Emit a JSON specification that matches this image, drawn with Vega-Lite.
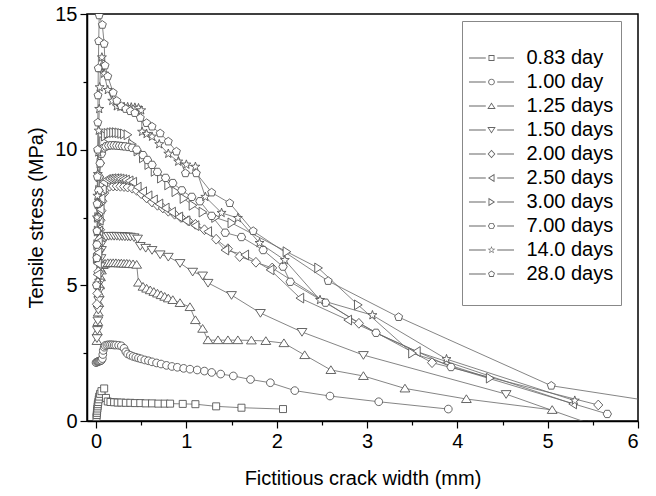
{
  "$schema": "https://vega.github.io/schema/vega-lite/v6.json",
  "width": 551,
  "height": 407,
  "autosize": "none",
  "padding": {"left": 87, "top": 14, "right": 18, "bottom": 75},
  "config": {
    "font": "Liberation Sans",
    "view": {"stroke": "#000", "strokeWidth": 1.5},
    "axis": {
      "grid": false,
      "domainColor": "#000",
      "domainWidth": 1.5,
      "tickColor": "#000",
      "tickWidth": 1.2,
      "labelFont": "Liberation Sans",
      "labelFontSize": 20,
      "labelColor": "#000",
      "titleFont": "Liberation Sans",
      "titleFontSize": 20,
      "titleFontWeight": "normal",
      "titleColor": "#000"
    }
  },
  "data": {
    "values": [
      {"age": "0.83 day", "w": 0.005, "s": 0.15},
      {"age": "0.83 day", "w": 0.008, "s": 0.22},
      {"age": "0.83 day", "w": 0.01, "s": 0.3},
      {"age": "0.83 day", "w": 0.012, "s": 0.38},
      {"age": "0.83 day", "w": 0.015, "s": 0.46},
      {"age": "0.83 day", "w": 0.018, "s": 0.54},
      {"age": "0.83 day", "w": 0.02, "s": 0.62},
      {"age": "0.83 day", "w": 0.025, "s": 0.7},
      {"age": "0.83 day", "w": 0.03, "s": 0.8},
      {"age": "0.83 day", "w": 0.035, "s": 0.9},
      {"age": "0.83 day", "w": 0.045, "s": 1.0},
      {"age": "0.83 day", "w": 0.06, "s": 1.1},
      {"age": "0.83 day", "w": 0.09, "s": 1.2},
      {"age": "0.83 day", "w": 0.11, "s": 0.85},
      {"age": "0.83 day", "w": 0.13, "s": 0.72},
      {"age": "0.83 day", "w": 0.16, "s": 0.7},
      {"age": "0.83 day", "w": 0.2, "s": 0.69},
      {"age": "0.83 day", "w": 0.24, "s": 0.68},
      {"age": "0.83 day", "w": 0.28, "s": 0.68},
      {"age": "0.83 day", "w": 0.33, "s": 0.67},
      {"age": "0.83 day", "w": 0.38, "s": 0.67},
      {"age": "0.83 day", "w": 0.43, "s": 0.66},
      {"age": "0.83 day", "w": 0.49, "s": 0.66},
      {"age": "0.83 day", "w": 0.55, "s": 0.65},
      {"age": "0.83 day", "w": 0.62, "s": 0.65},
      {"age": "0.83 day", "w": 0.69, "s": 0.64},
      {"age": "0.83 day", "w": 0.76, "s": 0.64},
      {"age": "0.83 day", "w": 0.82, "s": 0.64},
      {"age": "0.83 day", "w": 0.96, "s": 0.63},
      {"age": "0.83 day", "w": 1.1, "s": 0.62},
      {"age": "0.83 day", "w": 1.33, "s": 0.54},
      {"age": "0.83 day", "w": 1.61, "s": 0.49},
      {"age": "0.83 day", "w": 2.07, "s": 0.44},

      {"age": "1.00 day", "w": 0.0, "s": 2.15},
      {"age": "1.00 day", "w": 0.01, "s": 2.17},
      {"age": "1.00 day", "w": 0.02, "s": 2.19},
      {"age": "1.00 day", "w": 0.03, "s": 2.2},
      {"age": "1.00 day", "w": 0.04, "s": 2.21},
      {"age": "1.00 day", "w": 0.05, "s": 2.22},
      {"age": "1.00 day", "w": 0.06, "s": 2.24},
      {"age": "1.00 day", "w": 0.07, "s": 2.3},
      {"age": "1.00 day", "w": 0.075, "s": 2.45},
      {"age": "1.00 day", "w": 0.08, "s": 2.6},
      {"age": "1.00 day", "w": 0.09, "s": 2.72},
      {"age": "1.00 day", "w": 0.1, "s": 2.78},
      {"age": "1.00 day", "w": 0.12, "s": 2.8},
      {"age": "1.00 day", "w": 0.14, "s": 2.81},
      {"age": "1.00 day", "w": 0.16, "s": 2.81},
      {"age": "1.00 day", "w": 0.18, "s": 2.81},
      {"age": "1.00 day", "w": 0.2, "s": 2.8},
      {"age": "1.00 day", "w": 0.22, "s": 2.8},
      {"age": "1.00 day", "w": 0.25, "s": 2.79},
      {"age": "1.00 day", "w": 0.28, "s": 2.77},
      {"age": "1.00 day", "w": 0.31, "s": 2.68},
      {"age": "1.00 day", "w": 0.33, "s": 2.55},
      {"age": "1.00 day", "w": 0.35, "s": 2.47},
      {"age": "1.00 day", "w": 0.38, "s": 2.42},
      {"age": "1.00 day", "w": 0.41, "s": 2.38},
      {"age": "1.00 day", "w": 0.44, "s": 2.35},
      {"age": "1.00 day", "w": 0.47, "s": 2.32},
      {"age": "1.00 day", "w": 0.5, "s": 2.29},
      {"age": "1.00 day", "w": 0.54, "s": 2.25},
      {"age": "1.00 day", "w": 0.58, "s": 2.22},
      {"age": "1.00 day", "w": 0.62, "s": 2.18},
      {"age": "1.00 day", "w": 0.67, "s": 2.14},
      {"age": "1.00 day", "w": 0.72, "s": 2.1},
      {"age": "1.00 day", "w": 0.78, "s": 2.05},
      {"age": "1.00 day", "w": 0.84, "s": 2.01},
      {"age": "1.00 day", "w": 0.9, "s": 1.98},
      {"age": "1.00 day", "w": 0.97, "s": 1.94},
      {"age": "1.00 day", "w": 1.04, "s": 1.91},
      {"age": "1.00 day", "w": 1.12, "s": 1.88},
      {"age": "1.00 day", "w": 1.2, "s": 1.84},
      {"age": "1.00 day", "w": 1.28, "s": 1.79},
      {"age": "1.00 day", "w": 1.38, "s": 1.73},
      {"age": "1.00 day", "w": 1.52, "s": 1.66},
      {"age": "1.00 day", "w": 1.71, "s": 1.53},
      {"age": "1.00 day", "w": 1.93, "s": 1.41},
      {"age": "1.00 day", "w": 2.2, "s": 1.12},
      {"age": "1.00 day", "w": 2.59, "s": 0.92},
      {"age": "1.00 day", "w": 3.13, "s": 0.71},
      {"age": "1.00 day", "w": 3.9, "s": 0.44},

      {"age": "1.25 days", "w": 0.01, "s": 2.95},
      {"age": "1.25 days", "w": 0.015, "s": 3.3},
      {"age": "1.25 days", "w": 0.02, "s": 3.65},
      {"age": "1.25 days", "w": 0.025, "s": 4.0},
      {"age": "1.25 days", "w": 0.03, "s": 4.35},
      {"age": "1.25 days", "w": 0.035, "s": 4.7},
      {"age": "1.25 days", "w": 0.04, "s": 5.0},
      {"age": "1.25 days", "w": 0.05, "s": 5.3},
      {"age": "1.25 days", "w": 0.06, "s": 5.55},
      {"age": "1.25 days", "w": 0.08, "s": 5.75},
      {"age": "1.25 days", "w": 0.1, "s": 5.8},
      {"age": "1.25 days", "w": 0.13, "s": 5.82},
      {"age": "1.25 days", "w": 0.16, "s": 5.82},
      {"age": "1.25 days", "w": 0.19, "s": 5.82},
      {"age": "1.25 days", "w": 0.22, "s": 5.82},
      {"age": "1.25 days", "w": 0.25, "s": 5.81},
      {"age": "1.25 days", "w": 0.28, "s": 5.81},
      {"age": "1.25 days", "w": 0.31, "s": 5.8},
      {"age": "1.25 days", "w": 0.34, "s": 5.8},
      {"age": "1.25 days", "w": 0.37, "s": 5.79},
      {"age": "1.25 days", "w": 0.41, "s": 5.78},
      {"age": "1.25 days", "w": 0.45, "s": 5.76},
      {"age": "1.25 days", "w": 0.47, "s": 5.1},
      {"age": "1.25 days", "w": 0.52, "s": 4.95},
      {"age": "1.25 days", "w": 0.56, "s": 4.88},
      {"age": "1.25 days", "w": 0.6, "s": 4.82},
      {"age": "1.25 days", "w": 0.64, "s": 4.76},
      {"age": "1.25 days", "w": 0.68, "s": 4.7},
      {"age": "1.25 days", "w": 0.72, "s": 4.64},
      {"age": "1.25 days", "w": 0.76, "s": 4.58},
      {"age": "1.25 days", "w": 0.8, "s": 4.52},
      {"age": "1.25 days", "w": 0.85, "s": 4.46},
      {"age": "1.25 days", "w": 0.93, "s": 4.35},
      {"age": "1.25 days", "w": 1.04, "s": 4.2},
      {"age": "1.25 days", "w": 1.1, "s": 3.72},
      {"age": "1.25 days", "w": 1.18, "s": 3.4},
      {"age": "1.25 days", "w": 1.24, "s": 2.98},
      {"age": "1.25 days", "w": 1.35, "s": 2.98},
      {"age": "1.25 days", "w": 1.46, "s": 2.98},
      {"age": "1.25 days", "w": 1.57, "s": 2.98},
      {"age": "1.25 days", "w": 1.72, "s": 2.97},
      {"age": "1.25 days", "w": 1.88, "s": 2.95},
      {"age": "1.25 days", "w": 2.08, "s": 2.87},
      {"age": "1.25 days", "w": 2.31, "s": 2.43},
      {"age": "1.25 days", "w": 2.6, "s": 1.88},
      {"age": "1.25 days", "w": 2.96, "s": 1.66},
      {"age": "1.25 days", "w": 3.42, "s": 1.2},
      {"age": "1.25 days", "w": 4.1, "s": 0.81},
      {"age": "1.25 days", "w": 5.05, "s": 0.41},

      {"age": "1.50 days", "w": 0.01, "s": 3.05},
      {"age": "1.50 days", "w": 0.015, "s": 3.35},
      {"age": "1.50 days", "w": 0.02, "s": 3.7},
      {"age": "1.50 days", "w": 0.025, "s": 4.1},
      {"age": "1.50 days", "w": 0.03, "s": 4.45},
      {"age": "1.50 days", "w": 0.035, "s": 4.8},
      {"age": "1.50 days", "w": 0.04, "s": 5.1},
      {"age": "1.50 days", "w": 0.045, "s": 5.4},
      {"age": "1.50 days", "w": 0.05, "s": 5.7},
      {"age": "1.50 days", "w": 0.055, "s": 6.0},
      {"age": "1.50 days", "w": 0.06, "s": 6.3},
      {"age": "1.50 days", "w": 0.075, "s": 6.6},
      {"age": "1.50 days", "w": 0.09, "s": 6.75},
      {"age": "1.50 days", "w": 0.11, "s": 6.8},
      {"age": "1.50 days", "w": 0.14, "s": 6.82},
      {"age": "1.50 days", "w": 0.17, "s": 6.82},
      {"age": "1.50 days", "w": 0.2, "s": 6.82},
      {"age": "1.50 days", "w": 0.23, "s": 6.82},
      {"age": "1.50 days", "w": 0.26, "s": 6.81},
      {"age": "1.50 days", "w": 0.29, "s": 6.81},
      {"age": "1.50 days", "w": 0.32, "s": 6.8},
      {"age": "1.50 days", "w": 0.35, "s": 6.8},
      {"age": "1.50 days", "w": 0.38, "s": 6.79},
      {"age": "1.50 days", "w": 0.42, "s": 6.77},
      {"age": "1.50 days", "w": 0.46, "s": 6.72},
      {"age": "1.50 days", "w": 0.49, "s": 6.45},
      {"age": "1.50 days", "w": 0.55, "s": 6.38},
      {"age": "1.50 days", "w": 0.62, "s": 6.3},
      {"age": "1.50 days", "w": 0.71, "s": 6.14},
      {"age": "1.50 days", "w": 0.8, "s": 6.05},
      {"age": "1.50 days", "w": 0.93, "s": 5.82},
      {"age": "1.50 days", "w": 1.07, "s": 5.5},
      {"age": "1.50 days", "w": 1.18, "s": 5.36},
      {"age": "1.50 days", "w": 1.24, "s": 5.09},
      {"age": "1.50 days", "w": 1.5, "s": 4.64},
      {"age": "1.50 days", "w": 1.82, "s": 3.98},
      {"age": "1.50 days", "w": 2.28, "s": 3.28},
      {"age": "1.50 days", "w": 2.96, "s": 2.43},
      {"age": "1.50 days", "w": 4.54, "s": 0.99},
      {"age": "1.50 days", "w": 5.5, "s": -0.14},

      {"age": "2.00 days", "w": 0.01, "s": 4.3},
      {"age": "2.00 days", "w": 0.015, "s": 4.7},
      {"age": "2.00 days", "w": 0.02, "s": 5.1},
      {"age": "2.00 days", "w": 0.025, "s": 5.5},
      {"age": "2.00 days", "w": 0.03, "s": 5.9},
      {"age": "2.00 days", "w": 0.035, "s": 6.3},
      {"age": "2.00 days", "w": 0.04, "s": 6.7},
      {"age": "2.00 days", "w": 0.045, "s": 7.05},
      {"age": "2.00 days", "w": 0.05, "s": 7.4},
      {"age": "2.00 days", "w": 0.06, "s": 7.75},
      {"age": "2.00 days", "w": 0.07, "s": 8.1},
      {"age": "2.00 days", "w": 0.09, "s": 8.4},
      {"age": "2.00 days", "w": 0.12, "s": 8.6},
      {"age": "2.00 days", "w": 0.15, "s": 8.65},
      {"age": "2.00 days", "w": 0.19, "s": 8.66},
      {"age": "2.00 days", "w": 0.23, "s": 8.66},
      {"age": "2.00 days", "w": 0.27, "s": 8.65},
      {"age": "2.00 days", "w": 0.31, "s": 8.64},
      {"age": "2.00 days", "w": 0.35, "s": 8.62},
      {"age": "2.00 days", "w": 0.4, "s": 8.58},
      {"age": "2.00 days", "w": 0.45, "s": 8.5},
      {"age": "2.00 days", "w": 0.5, "s": 8.38},
      {"age": "2.00 days", "w": 0.56, "s": 8.22},
      {"age": "2.00 days", "w": 0.62, "s": 8.07},
      {"age": "2.00 days", "w": 0.68, "s": 7.95},
      {"age": "2.00 days", "w": 0.74, "s": 7.85},
      {"age": "2.00 days", "w": 0.8, "s": 7.73},
      {"age": "2.00 days", "w": 0.87, "s": 7.62},
      {"age": "2.00 days", "w": 0.94, "s": 7.5},
      {"age": "2.00 days", "w": 1.02, "s": 7.38},
      {"age": "2.00 days", "w": 1.1, "s": 7.25},
      {"age": "2.00 days", "w": 1.2, "s": 7.05},
      {"age": "2.00 days", "w": 1.33, "s": 6.7},
      {"age": "2.00 days", "w": 1.46, "s": 6.35},
      {"age": "2.00 days", "w": 1.59, "s": 6.06},
      {"age": "2.00 days", "w": 1.77, "s": 5.85},
      {"age": "2.00 days", "w": 1.95, "s": 5.64},
      {"age": "2.00 days", "w": 2.91, "s": 3.6},
      {"age": "2.00 days", "w": 3.72, "s": 2.15},
      {"age": "2.00 days", "w": 5.56, "s": 0.59},

      {"age": "2.50 days", "w": 0.01, "s": 5.0},
      {"age": "2.50 days", "w": 0.015, "s": 5.4},
      {"age": "2.50 days", "w": 0.02, "s": 5.8},
      {"age": "2.50 days", "w": 0.025, "s": 6.2},
      {"age": "2.50 days", "w": 0.03, "s": 6.6},
      {"age": "2.50 days", "w": 0.035, "s": 7.0},
      {"age": "2.50 days", "w": 0.04, "s": 7.4},
      {"age": "2.50 days", "w": 0.05, "s": 7.8},
      {"age": "2.50 days", "w": 0.06, "s": 8.2},
      {"age": "2.50 days", "w": 0.075, "s": 8.55},
      {"age": "2.50 days", "w": 0.09, "s": 8.8},
      {"age": "2.50 days", "w": 0.12, "s": 8.9},
      {"age": "2.50 days", "w": 0.15, "s": 8.92},
      {"age": "2.50 days", "w": 0.18, "s": 8.93},
      {"age": "2.50 days", "w": 0.21, "s": 8.93},
      {"age": "2.50 days", "w": 0.24, "s": 8.93},
      {"age": "2.50 days", "w": 0.27, "s": 8.92},
      {"age": "2.50 days", "w": 0.3, "s": 8.9},
      {"age": "2.50 days", "w": 0.33, "s": 8.88},
      {"age": "2.50 days", "w": 0.37, "s": 8.85},
      {"age": "2.50 days", "w": 0.41, "s": 8.8},
      {"age": "2.50 days", "w": 0.46, "s": 8.62},
      {"age": "2.50 days", "w": 0.52, "s": 8.45},
      {"age": "2.50 days", "w": 0.58, "s": 8.3},
      {"age": "2.50 days", "w": 0.64, "s": 8.15},
      {"age": "2.50 days", "w": 0.7, "s": 8.0},
      {"age": "2.50 days", "w": 0.77, "s": 7.85},
      {"age": "2.50 days", "w": 0.84, "s": 7.7},
      {"age": "2.50 days", "w": 0.92, "s": 7.52},
      {"age": "2.50 days", "w": 1.0, "s": 7.38},
      {"age": "2.50 days", "w": 1.1, "s": 7.2},
      {"age": "2.50 days", "w": 1.24, "s": 6.98},
      {"age": "2.50 days", "w": 1.43, "s": 6.3},
      {"age": "2.50 days", "w": 1.65, "s": 6.12},
      {"age": "2.50 days", "w": 1.93, "s": 5.57},
      {"age": "2.50 days", "w": 2.26, "s": 4.53},
      {"age": "2.50 days", "w": 2.79, "s": 3.72},
      {"age": "2.50 days", "w": 3.55, "s": 2.56},
      {"age": "2.50 days", "w": 5.28, "s": 0.63},

      {"age": "3.00 days", "w": 0.01, "s": 6.0},
      {"age": "3.00 days", "w": 0.015, "s": 6.5},
      {"age": "3.00 days", "w": 0.02, "s": 7.0},
      {"age": "3.00 days", "w": 0.025, "s": 7.5},
      {"age": "3.00 days", "w": 0.03, "s": 8.0},
      {"age": "3.00 days", "w": 0.035, "s": 8.5},
      {"age": "3.00 days", "w": 0.04, "s": 9.0},
      {"age": "3.00 days", "w": 0.05, "s": 9.5},
      {"age": "3.00 days", "w": 0.06, "s": 9.9},
      {"age": "3.00 days", "w": 0.08, "s": 10.3},
      {"age": "3.00 days", "w": 0.1, "s": 10.5},
      {"age": "3.00 days", "w": 0.13, "s": 10.6},
      {"age": "3.00 days", "w": 0.16, "s": 10.62},
      {"age": "3.00 days", "w": 0.19, "s": 10.63},
      {"age": "3.00 days", "w": 0.22, "s": 10.63},
      {"age": "3.00 days", "w": 0.25, "s": 10.62},
      {"age": "3.00 days", "w": 0.28, "s": 10.6},
      {"age": "3.00 days", "w": 0.31, "s": 10.58},
      {"age": "3.00 days", "w": 0.35, "s": 10.55},
      {"age": "3.00 days", "w": 0.4, "s": 10.2},
      {"age": "3.00 days", "w": 0.46, "s": 9.95},
      {"age": "3.00 days", "w": 0.52, "s": 9.7},
      {"age": "3.00 days", "w": 0.58, "s": 9.45},
      {"age": "3.00 days", "w": 0.65, "s": 9.2},
      {"age": "3.00 days", "w": 0.72, "s": 8.95},
      {"age": "3.00 days", "w": 0.8, "s": 8.7},
      {"age": "3.00 days", "w": 0.88, "s": 8.45},
      {"age": "3.00 days", "w": 0.97, "s": 8.2},
      {"age": "3.00 days", "w": 1.07, "s": 7.95},
      {"age": "3.00 days", "w": 1.18, "s": 7.7},
      {"age": "3.00 days", "w": 1.32, "s": 7.5},
      {"age": "3.00 days", "w": 1.5, "s": 7.3},
      {"age": "3.00 days", "w": 2.11, "s": 6.24},
      {"age": "3.00 days", "w": 2.46, "s": 5.64},
      {"age": "3.00 days", "w": 2.9, "s": 4.28},
      {"age": "3.00 days", "w": 3.5, "s": 2.5},
      {"age": "3.00 days", "w": 4.36, "s": 1.58},

      {"age": "7.00 days", "w": 0.01, "s": 6.5},
      {"age": "7.00 days", "w": 0.015, "s": 7.0},
      {"age": "7.00 days", "w": 0.02, "s": 7.5},
      {"age": "7.00 days", "w": 0.025, "s": 8.0},
      {"age": "7.00 days", "w": 0.03, "s": 8.5},
      {"age": "7.00 days", "w": 0.035, "s": 9.0},
      {"age": "7.00 days", "w": 0.045, "s": 9.5},
      {"age": "7.00 days", "w": 0.06, "s": 9.85},
      {"age": "7.00 days", "w": 0.08, "s": 10.05},
      {"age": "7.00 days", "w": 0.11, "s": 10.12},
      {"age": "7.00 days", "w": 0.14, "s": 10.15},
      {"age": "7.00 days", "w": 0.17, "s": 10.16},
      {"age": "7.00 days", "w": 0.2, "s": 10.16},
      {"age": "7.00 days", "w": 0.23, "s": 10.15},
      {"age": "7.00 days", "w": 0.26, "s": 10.14},
      {"age": "7.00 days", "w": 0.29, "s": 10.13},
      {"age": "7.00 days", "w": 0.32, "s": 10.12},
      {"age": "7.00 days", "w": 0.36, "s": 10.1},
      {"age": "7.00 days", "w": 0.4, "s": 10.07},
      {"age": "7.00 days", "w": 0.45, "s": 10.0},
      {"age": "7.00 days", "w": 0.52, "s": 9.8},
      {"age": "7.00 days", "w": 0.57, "s": 9.62},
      {"age": "7.00 days", "w": 0.62, "s": 9.44},
      {"age": "7.00 days", "w": 0.68, "s": 9.18},
      {"age": "7.00 days", "w": 0.77, "s": 8.96},
      {"age": "7.00 days", "w": 0.85, "s": 8.77},
      {"age": "7.00 days", "w": 0.95, "s": 8.5},
      {"age": "7.00 days", "w": 1.06, "s": 8.26},
      {"age": "7.00 days", "w": 1.15, "s": 8.1},
      {"age": "7.00 days", "w": 1.28, "s": 7.56},
      {"age": "7.00 days", "w": 1.43, "s": 6.94},
      {"age": "7.00 days", "w": 1.61, "s": 6.78},
      {"age": "7.00 days", "w": 1.85, "s": 6.3},
      {"age": "7.00 days", "w": 2.07, "s": 5.69},
      {"age": "7.00 days", "w": 2.15, "s": 5.13},
      {"age": "7.00 days", "w": 2.54, "s": 4.36},
      {"age": "7.00 days", "w": 3.1, "s": 3.25},
      {"age": "7.00 days", "w": 3.93, "s": 1.99},
      {"age": "7.00 days", "w": 5.66, "s": 0.26},

      {"age": "14.0 days", "w": 0.01, "s": 7.5},
      {"age": "14.0 days", "w": 0.015, "s": 8.3},
      {"age": "14.0 days", "w": 0.02, "s": 9.1},
      {"age": "14.0 days", "w": 0.025, "s": 9.9},
      {"age": "14.0 days", "w": 0.03, "s": 10.7},
      {"age": "14.0 days", "w": 0.035, "s": 11.5},
      {"age": "14.0 days", "w": 0.04, "s": 12.3},
      {"age": "14.0 days", "w": 0.05, "s": 13.0},
      {"age": "14.0 days", "w": 0.065, "s": 13.4},
      {"age": "14.0 days", "w": 0.09, "s": 12.8},
      {"age": "14.0 days", "w": 0.13, "s": 12.2},
      {"age": "14.0 days", "w": 0.18, "s": 11.8},
      {"age": "14.0 days", "w": 0.23, "s": 11.6},
      {"age": "14.0 days", "w": 0.27, "s": 11.58},
      {"age": "14.0 days", "w": 0.31, "s": 11.58},
      {"age": "14.0 days", "w": 0.35, "s": 11.57},
      {"age": "14.0 days", "w": 0.39, "s": 11.56},
      {"age": "14.0 days", "w": 0.43, "s": 11.55},
      {"age": "14.0 days", "w": 0.47, "s": 11.53},
      {"age": "14.0 days", "w": 0.5, "s": 11.45},
      {"age": "14.0 days", "w": 0.51, "s": 10.66},
      {"age": "14.0 days", "w": 0.56, "s": 10.58},
      {"age": "14.0 days", "w": 0.62, "s": 10.48},
      {"age": "14.0 days", "w": 0.7, "s": 10.2},
      {"age": "14.0 days", "w": 0.8, "s": 9.85},
      {"age": "14.0 days", "w": 0.91, "s": 9.56},
      {"age": "14.0 days", "w": 1.0, "s": 9.45},
      {"age": "14.0 days", "w": 1.1, "s": 9.37},
      {"age": "14.0 days", "w": 1.21, "s": 8.26},
      {"age": "14.0 days", "w": 1.39, "s": 7.67},
      {"age": "14.0 days", "w": 1.57, "s": 7.48},
      {"age": "14.0 days", "w": 1.81, "s": 6.56},
      {"age": "14.0 days", "w": 2.09, "s": 5.93},
      {"age": "14.0 days", "w": 2.48, "s": 4.46},
      {"age": "14.0 days", "w": 3.06, "s": 3.9},
      {"age": "14.0 days", "w": 3.88, "s": 2.28},
      {"age": "14.0 days", "w": 5.3, "s": 0.75},

      {"age": "28.0 days", "w": 0.005, "s": 5.0},
      {"age": "28.0 days", "w": 0.008, "s": 6.0},
      {"age": "28.0 days", "w": 0.01, "s": 7.0},
      {"age": "28.0 days", "w": 0.012, "s": 8.0},
      {"age": "28.0 days", "w": 0.015, "s": 9.0},
      {"age": "28.0 days", "w": 0.018, "s": 10.0},
      {"age": "28.0 days", "w": 0.02, "s": 11.0},
      {"age": "28.0 days", "w": 0.022, "s": 12.0},
      {"age": "28.0 days", "w": 0.025, "s": 13.0},
      {"age": "28.0 days", "w": 0.03, "s": 14.0},
      {"age": "28.0 days", "w": 0.035, "s": 14.95},
      {"age": "28.0 days", "w": 0.07, "s": 14.6},
      {"age": "28.0 days", "w": 0.09, "s": 13.9},
      {"age": "28.0 days", "w": 0.1, "s": 13.1},
      {"age": "28.0 days", "w": 0.13, "s": 12.7},
      {"age": "28.0 days", "w": 0.19, "s": 12.1},
      {"age": "28.0 days", "w": 0.23, "s": 11.8},
      {"age": "28.0 days", "w": 0.28, "s": 11.6},
      {"age": "28.0 days", "w": 0.33, "s": 11.5},
      {"age": "28.0 days", "w": 0.38, "s": 11.42},
      {"age": "28.0 days", "w": 0.43, "s": 11.35},
      {"age": "28.0 days", "w": 0.49, "s": 11.17},
      {"age": "28.0 days", "w": 0.56, "s": 10.98},
      {"age": "28.0 days", "w": 0.62, "s": 10.85},
      {"age": "28.0 days", "w": 0.71, "s": 10.6},
      {"age": "28.0 days", "w": 0.8, "s": 10.3},
      {"age": "28.0 days", "w": 0.89, "s": 9.93},
      {"age": "28.0 days", "w": 0.99, "s": 9.13},
      {"age": "28.0 days", "w": 1.11, "s": 9.13},
      {"age": "28.0 days", "w": 1.28, "s": 8.42},
      {"age": "28.0 days", "w": 1.48, "s": 8.03},
      {"age": "28.0 days", "w": 1.74, "s": 7.0},
      {"age": "28.0 days", "w": 2.57, "s": 5.16},
      {"age": "28.0 days", "w": 3.35, "s": 3.83},
      {"age": "28.0 days", "w": 5.04, "s": 1.3},
      {"age": "28.0 days", "w": 6.6, "s": 0.5}
    ]
  },
  "encoding": {
    "x": {
      "field": "w",
      "type": "quantitative",
      "scale": {"domain": [-0.1, 6], "nice": false, "zero": false},
      "axis": {
        "title": "Fictitious crack width (mm)",
        "values": [0, 0.5, 1, 1.5, 2, 2.5, 3, 3.5, 4, 4.5, 5, 5.5, 6],
        "labelExpr": "datum.value % 1 === 0 ? format(datum.value, 'd') : ''",
        "tickSize": {"condition": {"test": "datum.value % 1 !== 0", "value": 4}, "value": 7},
        "labelPadding": 3,
        "titlePadding": 17
      }
    },
    "y": {
      "field": "s",
      "type": "quantitative",
      "scale": {"domain": [0, 15], "nice": false},
      "axis": {
        "title": "Tensile stress (MPa)",
        "values": [0, 2.5, 5, 7.5, 10, 12.5, 15],
        "labelExpr": "datum.value % 5 === 0 ? format(datum.value, 'd') : ''",
        "tickSize": {"condition": {"test": "datum.value % 5 !== 0", "value": 4}, "value": 7},
        "labelPadding": 3,
        "titlePadding": 8
      }
    }
  },
  "layer": [
    {
      "mark": {"type": "line", "clip": true, "stroke": "#666", "strokeWidth": 0.8},
      "encoding": {
        "detail": {"field": "age"},
        "order": {"value": null}
      }
    },
    {
      "mark": {"type": "point", "clip": true, "filled": false, "fill": "#fff", "stroke": "#555", "strokeWidth": 0.9, "opacity": 1, "size": 49},
      "encoding": {
        "shape": {
          "field": "age",
          "type": "nominal",
          "scale": {
            "domain": ["0.83 day", "1.00 day", "1.25 days", "1.50 days", "2.00 days", "2.50 days", "3.00 days", "7.00 days", "14.0 days", "28.0 days"],
            "range": [
              "M-1,-1H1V1H-1Z",
              "M-1.1,0A1.1,1.1 0 1,0 1.1,0A1.1,1.1 0 1,0 -1.1,0Z",
              "M0,-1.2L1.4,1L-1.4,1Z",
              "M0,1.2L1.4,-1L-1.4,-1Z",
              "M0,-1.4L1.3,0L0,1.4L-1.3,0Z",
              "M-1.2,0L1,-1.4L1,1.4Z",
              "M1.2,0L-1,-1.4L-1,1.4Z",
              "M-1.2,0L-0.6,-1.04L0.6,-1.04L1.2,0L0.6,1.04L-0.6,1.04Z",
              "M0,-1.35L0.323,-0.445L1.284,-0.417L0.523,0.17L0.794,1.092L0,0.55L-0.794,1.092L-0.523,0.17L-1.284,-0.417L-0.323,-0.445Z",
              "M0,-1.2L1.141,-0.371L0.705,0.971L-0.705,0.971L-1.141,-0.371Z"
            ]
          },
          "legend": null
        }
      }
    },
    {
      "transform": [{"filter": "datum.w > 100"}],
      "mark": {"type": "point", "filled": true, "fill": "#666", "strokeWidth": 0, "opacity": 1, "size": 36},
      "encoding": {
        "shape": {
          "field": "age",
          "type": "nominal",
          "scale": {
            "domain": ["0.83 day", "1.00 day", "1.25 days", "1.50 days", "2.00 days", "2.50 days", "3.00 days", "7.00 days", "14.0 days", "28.0 days"],
            "range": [
              "M-1,-1H1V1H-1ZM-0.7,-0.7V0.7H0.7V-0.7ZM-7.5,-0.15H-1.9V0.15H-7.5ZM1.9,-0.15H7.5V0.15H1.9Z",
              "M-1.1,0A1.1,1.1 0 1,0 1.1,0A1.1,1.1 0 1,0 -1.1,0ZM-0.8,0A0.8,0.8 0 1,1 0.8,0A0.8,0.8 0 1,1 -0.8,0ZM-7.5,-0.15H-1.9V0.15H-7.5ZM1.9,-0.15H7.5V0.15H1.9Z",
              "M0,-1.2L1.4,1L-1.4,1ZM0,-0.64L-0.854,0.7L0.854,0.7ZM-7.5,-0.15H-1.9V0.15H-7.5ZM1.9,-0.15H7.5V0.15H1.9Z",
              "M0,1.2L1.4,-1L-1.4,-1ZM0,0.64L-0.854,-0.7L0.854,-0.7ZM-7.5,-0.15H-1.9V0.15H-7.5ZM1.9,-0.15H7.5V0.15H1.9Z",
              "M0,-1.4L1.3,0L0,1.4L-1.3,0ZM0,-0.98L-0.91,0L0,0.98L0.91,0ZM-7.5,-0.15H-1.9V0.15H-7.5ZM1.9,-0.15H7.5V0.15H1.9Z",
              "M-1.2,0L1,-1.4L1,1.4ZM-0.64,0L0.7,0.854L0.7,-0.854ZM-7.5,-0.15H-1.9V0.15H-7.5ZM1.9,-0.15H7.5V0.15H1.9Z",
              "M1.2,0L-1,-1.4L-1,1.4ZM0.64,0L-0.7,0.854L-0.7,-0.854ZM-7.5,-0.15H-1.9V0.15H-7.5ZM1.9,-0.15H7.5V0.15H1.9Z",
              "M-1.2,0L-0.6,-1.04L0.6,-1.04L1.2,0L0.6,1.04L-0.6,1.04ZM-0.87,0L-0.435,0.754L0.435,0.754L0.87,0L0.435,-0.754L-0.435,-0.754ZM-7.5,-0.15H-1.9V0.15H-7.5ZM1.9,-0.15H7.5V0.15H1.9Z",
              "M0,-1.35L0.323,-0.445L1.284,-0.417L0.523,0.17L0.794,1.092L0,0.55L-0.794,1.092L-0.523,0.17L-1.284,-0.417L-0.323,-0.445ZM0,-0.81L-0.194,-0.267L-0.77,-0.25L-0.314,0.102L-0.476,0.655L0,0.33L0.476,0.655L0.314,0.102L0.77,-0.25L0.194,-0.267ZM-7.5,-0.15H-1.9V0.15H-7.5ZM1.9,-0.15H7.5V0.15H1.9Z",
              "M0,-1.2L1.141,-0.371L0.705,0.971L-0.705,0.971L-1.141,-0.371ZM0,-0.87L-0.827,-0.269L-0.511,0.704L0.511,0.704L0.827,-0.269ZM-7.5,-0.15H-1.9V0.15H-7.5ZM1.9,-0.15H7.5V0.15H1.9ZM0,8"
            ]
          },
          "legend": {
            "title": " ",
            "titleFontSize": 14,
            "titlePadding": 6,
            "orient": "none",
            "legendX": 375,
            "legendY": 7,
            "padding": 7,
            "strokeColor": "#888",
            "fillColor": "#fff",
            "labelFont": "Liberation Sans",
            "labelFontSize": 20,
            "labelColor": "#000",
            "labelOffset": 25,
            "rowPadding": 4,
            "symbolSize": 36,
            "symbolOffset": 12.5,
            "symbolFillColor": "#666",
            "symbolStrokeWidth": 0,
            "encode": {
              "symbols": {
                "x": {"value": 22.5},
                "y": {"value": 10},
                "fill": {"value": "#666"},
                "fillOpacity": {"value": 1},
                "strokeWidth": {"value": 0},
                "opacity": {"value": 1}
              }
            }
          }
        }
      }
    }
  ],
  "resolve": {"scale": {"shape": "independent"}, "legend": {"shape": "independent"}}
}
